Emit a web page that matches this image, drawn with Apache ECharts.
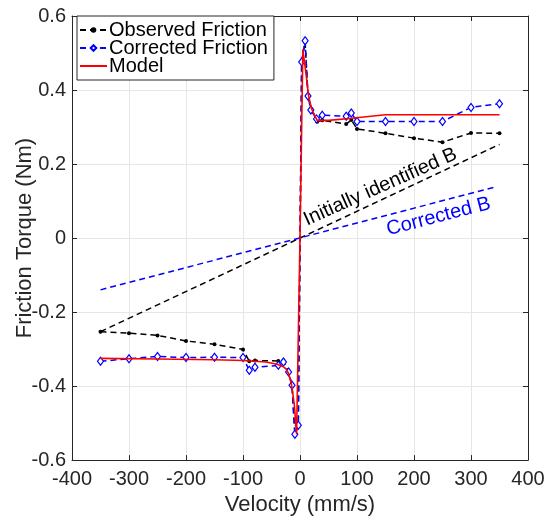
<!DOCTYPE html>
<html>
<head>
<meta charset="utf-8">
<script src="https://cdn.jsdelivr.net/npm/echarts@6/dist/echarts.min.js"></script>
<style>html,body{margin:0;padding:0;background:#fff}#c{width:550px;height:521px}</style>
</head>
<body>
<div id="c"></div>
<script>
// ---- data ----
const xTicks = [-400, -300, -200, -100, 0, 100, 200, 300, 400];
const yTicks = [-0.6, -0.4, -0.2, 0, 0.2, 0.4, 0.6];
const obsVel = [-350,-300,-250,-200,-150,-100,-89,-79,-38,-29,-20,-14,-9,-3,3,9,14,20,30,39,81,90,100,150,200,250,300,350];
const obsTorque = [-0.253,-0.257,-0.263,-0.278,-0.287,-0.301,-0.333,-0.331,-0.332,-0.331,-0.362,-0.398,-0.53,-0.506,0.476,0.53,0.385,0.349,0.314,0.318,0.308,0.319,0.295,0.283,0.27,0.259,0.284,0.283];
const corVel = [-350,-300,-250,-200,-150,-100,-89,-79,-38,-29,-20,-14,-9,-3,3,9,14,19,29,39,81,90,100,150,200,250,300,350];
const corTorque = [-0.333,-0.326,-0.320,-0.323,-0.322,-0.323,-0.357,-0.349,-0.344,-0.335,-0.362,-0.398,-0.53,-0.506,0.476,0.533,0.384,0.346,0.322,0.332,0.329,0.338,0.315,0.315,0.315,0.315,0.353,0.363];
const modelVel = [-350,-250,-150,-100,-60,-40,-30,-25,-20,-15,-10,-6,0,5,10,15,20,30,50,86,150,250,350];
const modelTorque = [-0.325,-0.327,-0.329,-0.331,-0.335,-0.341,-0.347,-0.353,-0.366,-0.395,-0.45,-0.53,0,0.51,0.45,0.385,0.35,0.318,0.318,0.323,0.333,0.333,0.333];
const initBVel = [-350, 350];
const initBTorque = [-0.253, 0.253];
const corBVel = [-350, 345];
const corBTorque = [-0.14, 0.139];
const labelInitB = {text: 'Initially identified B', vel: 141, torque: 0.138};
const labelCorB = {text: 'Corrected B', vel: 243, torque: 0.058};
const xAxisTitle = 'Velocity (mm/s)';
const yAxisTitle = 'Friction Torque (Nm)';

const zip = (a, b) => a.map((v, i) => [v, b[i]]);
const FONT = "'Liberation Sans', Arial, Helvetica, sans-serif";
const AX = '#262626';

const chart = echarts.init(document.getElementById('c'), null, {renderer: 'canvas'});

const baseX = {
  type: 'value', min: -400, max: 400, interval: 100,
  axisLine: {show: true, onZero: false, lineStyle: {color: AX, width: 1}},
  axisTick: {show: true, inside: true, length: 5, lineStyle: {color: AX}},
};
const baseY = {
  type: 'value', min: -0.6, max: 0.6, interval: 0.2,
  axisLine: {show: true, onZero: false, lineStyle: {color: AX, width: 1}},
  axisTick: {show: true, inside: true, length: 5, lineStyle: {color: AX}},
};

const option = {
  backgroundColor: '#fff',
  animation: false,
  textStyle: {fontFamily: FONT},
  grid: {left: 72, right: 22, top: 16, bottom: 57},
  legend: {
    orient: 'vertical', left: 77, top: 16,
    backgroundColor: '#fff', borderColor: AX, borderWidth: 1, borderRadius: 0,
    padding: [4, 6, 4, 2], itemGap: -2, itemWidth: 27, itemHeight: 7,
    textStyle: {fontSize: 20, lineHeight: 18, color: '#000', fontFamily: FONT, padding: [0, 0, 0, -3]},
    data: [
      {name: 'Observed Friction'},
      {name: 'Corrected Friction'},
      {name: 'Model', itemStyle: {opacity: 0}}
    ]
  },
  xAxis: [
    Object.assign({}, baseX, {
      position: 'bottom',
      name: xAxisTitle, nameLocation: 'middle', nameGap: 29,
      nameTextStyle: {fontSize: 22, color: AX, fontFamily: FONT},
      axisLabel: {fontSize: 20, color: AX, margin: 9, fontFamily: FONT,
        formatter: v => xTicks.includes(v) ? String(v) : ''},
      splitLine: {show: true, lineStyle: {color: '#e6e6e6', width: 1}}
    }),
    Object.assign({}, baseX, {position: 'top', axisLabel: {show: false}, splitLine: {show: false}})
  ],
  yAxis: [
    Object.assign({}, baseY, {
      position: 'left',
      axisLabel: {fontSize: 20, color: AX, margin: 6, fontFamily: FONT,
        formatter: v => { const t = yTicks.find(k => Math.abs(k - v) < 1e-9); return t === undefined ? '' : String(Math.round(t * 10) / 10); }},
      splitLine: {show: true, lineStyle: {color: '#e6e6e6', width: 1}}
    }),
    Object.assign({}, baseY, {position: 'right', axisLabel: {show: false}, splitLine: {show: false}})
  ],
  series: [
    {
      name: 'Initially identified B line', type: 'line', data: zip(initBVel, initBTorque),
      symbol: 'none', silent: true, z: 1,
      lineStyle: {color: '#000', width: 1.5, type: [6, 4]}
    },
    {
      name: 'Corrected B line', type: 'line', data: zip(corBVel, corBTorque),
      symbol: 'none', silent: true, z: 1,
      lineStyle: {color: '#0000ff', width: 1.5, type: [6, 4]}
    },
    {
      name: 'Observed Friction', type: 'line', data: zip(obsVel, obsTorque),
      symbol: 'circle', symbolSize: 4, z: 2,
      itemStyle: {color: '#000'},
      lineStyle: {color: '#000', width: 1.5, type: [6, 4]}
    },
    {
      name: 'Corrected Friction', type: 'line', data: zip(corVel, corTorque),
      symbol: 'diamond', symbolSize: [6, 8], z: 3,
      itemStyle: {color: '#fff', borderColor: '#0000ff', borderWidth: 1.2},
      lineStyle: {color: '#0000ff', width: 1.5, type: [6, 4]}
    },
    {
      name: 'Model', type: 'line', data: zip(modelVel, modelTorque),
      symbol: 'none', z: 4,
      itemStyle: {color: '#ff0000'},
      lineStyle: {color: '#ff0000', width: 1.6}
    }
  ]
};
chart.setOption(option);

const p1 = chart.convertToPixel({xAxisIndex: 0, yAxisIndex: 0}, [labelInitB.vel, labelInitB.torque]);
const p2 = chart.convertToPixel({xAxisIndex: 0, yAxisIndex: 0}, [labelCorB.vel, labelCorB.torque]);
const pY = chart.convertToPixel({xAxisIndex: 0, yAxisIndex: 0}, [-400, 0]);
chart.setOption({
  graphic: [
    {type: 'text', x: p1[0], y: p1[1], rotation: 24 * Math.PI / 180, z: 10,
      style: {text: labelInitB.text, fill: '#000', font: '20px ' + FONT, align: 'center', verticalAlign: 'middle'}},
    {type: 'text', x: p2[0], y: p2[1], rotation: 14.5 * Math.PI / 180, z: 10,
      style: {text: labelCorB.text, fill: '#0000ff', font: '20px ' + FONT, align: 'center', verticalAlign: 'middle'}},
    {type: 'text', x: pY[0] - 47, y: pY[1], rotation: Math.PI / 2, z: 10,
      style: {text: yAxisTitle, fill: AX, font: '22px ' + FONT, align: 'center', verticalAlign: 'middle'}}
  ]
});
</script>
</body>
</html>
